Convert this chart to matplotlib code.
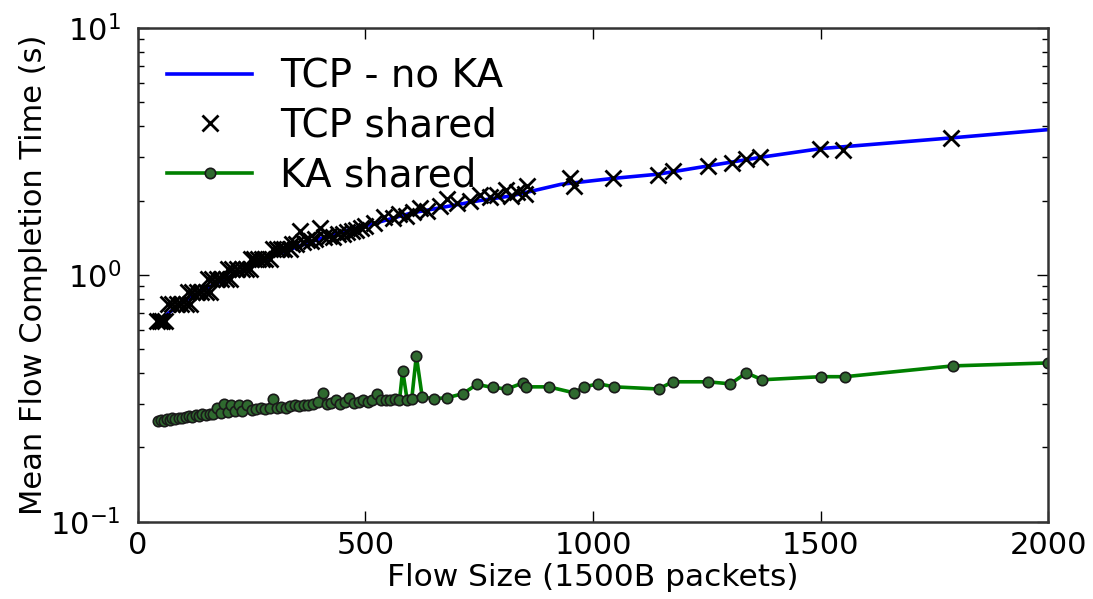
import numpy as np
import matplotlib.pyplot as plt

# TCP - no KA (smooth curve)
nka_x = [45, 100, 150, 200, 250, 300, 350, 400, 450, 500, 600, 750, 820, 930,
         1043, 1143, 1250, 1370, 1500, 1786, 2000]
nka_y = [0.65, 0.78, 0.88, 0.98, 1.08, 1.2, 1.3, 1.4, 1.5, 1.58, 1.78, 2.0, 2.09, 2.33,
         2.46, 2.56, 2.76, 3.0, 3.25, 3.59, 3.88]

# TCP shared (crosses)
tcp_x = [42, 48, 54, 60,
         66, 76, 86, 96, 106, 114,
         110, 120, 130, 140, 150, 158,
         154, 164, 174, 184, 194, 202,
         198, 208, 218, 228, 238, 246,
         248, 256, 264, 272, 280, 290,
         298, 306, 314, 322, 334,
         340, 348, 356, 364, 372, 380, 390, 400, 410, 420, 430, 440, 450, 460,
         470, 480, 490, 500, 520, 540, 560, 575, 590, 605, 620, 635, 664, 680,
         701, 730, 752, 774, 789, 810, 819, 833, 850, 855, 950, 958, 1043,
         1143, 1175, 1252, 1305, 1337, 1368, 1499, 1549, 1786]
tcp_y = [0.65, 0.65, 0.65, 0.65,
         0.76, 0.76, 0.76, 0.76, 0.76, 0.76,
         0.85, 0.85, 0.85, 0.85, 0.85, 0.85,
         0.96, 0.96, 0.96, 0.96, 0.96, 0.96,
         1.06, 1.06, 1.06, 1.06, 1.06, 1.06,
         1.16, 1.16, 1.16, 1.16, 1.16, 1.16,
         1.27, 1.27, 1.27, 1.27, 1.27,
         1.34, 1.33, 1.51, 1.36, 1.38, 1.37, 1.40, 1.55, 1.42, 1.44, 1.43, 1.46, 1.47, 1.49,
         1.5, 1.52, 1.55, 1.58, 1.62, 1.72, 1.7, 1.76, 1.74, 1.8, 1.86, 1.82, 1.9, 2.03,
         1.96, 2.0, 2.1, 2.06, 2.1, 2.2, 2.09, 2.16, 2.13, 2.29, 2.47, 2.3, 2.46,
         2.54, 2.64, 2.76, 2.85, 2.95, 3.0, 3.25, 3.21, 3.59]

# KA shared (line with circles)
ka_x = [45, 52, 58, 64, 70, 76, 82, 90, 98, 105, 112, 120, 128, 135, 142, 150, 158,
        166, 174, 182, 190, 198, 206, 214, 222, 230, 240, 250, 260, 270, 280, 290,
        297, 305, 315, 325, 335, 345, 355, 365, 375, 385, 395, 407, 415, 425, 435,
        445, 455, 465, 475, 485, 495, 505, 515, 525, 535, 545, 555, 565, 575, 582,
        592, 602, 612, 625, 650, 679, 714, 745, 780, 811, 846, 853, 903, 958, 981,
        1012, 1047, 1144, 1175, 1252, 1302, 1337, 1372, 1500, 1554, 1790, 2000]
ka_y = [0.255, 0.258, 0.256, 0.26, 0.258, 0.262, 0.26, 0.264, 0.262, 0.266, 0.268,
        0.265, 0.27, 0.268, 0.272, 0.27, 0.274, 0.272, 0.29, 0.276, 0.3, 0.278, 0.296,
        0.28, 0.298, 0.282, 0.296, 0.284, 0.286, 0.288, 0.286, 0.29, 0.315, 0.29, 0.292,
        0.29, 0.294, 0.296, 0.294, 0.298, 0.296, 0.3, 0.305, 0.333, 0.3, 0.302, 0.31,
        0.3, 0.305, 0.318, 0.302, 0.306, 0.31, 0.305, 0.31, 0.33, 0.31, 0.312, 0.31,
        0.315, 0.31, 0.41, 0.31, 0.315, 0.47, 0.32, 0.315, 0.318, 0.33, 0.36, 0.35,
        0.345, 0.365, 0.352, 0.352, 0.333, 0.352, 0.362, 0.352, 0.345, 0.369, 0.369,
        0.362, 0.401, 0.376, 0.387, 0.387, 0.428, 0.44]

fig = plt.figure(figsize=(10.93, 5.99), dpi=100)
ax = fig.add_axes([0.126, 0.129, 0.833, 0.824])

ax.plot(nka_x, nka_y, color='#0000ff', lw=2.6, label='TCP - no KA')
ax.plot(tcp_x, tcp_y, 'x', color='black', ms=11, mew=2.0, label='TCP shared')
ax.plot(ka_x, ka_y, '-o', color='#008000', lw=2.6, ms=7.5,
        mfc='#2f6a2f', mec='#1a1a1a', mew=1.2, label='KA shared')

ax.set_yscale('log')
ax.set_xlim(0, 2000)
ax.set_ylim(0.1, 10)
ax.set_xticks([0, 500, 1000, 1500, 2000])
ax.tick_params(which='both', direction='in', top=True, right=True, labelsize=22)
ax.tick_params(which='major', length=8, width=1)
ax.tick_params(which='minor', length=4, width=1)
ax.tick_params(axis='x', pad=7)
ax.tick_params(axis='y', pad=12)
for s in ax.spines.values():
    s.set_linewidth(1.8)
    s.set_color('#333333')

ax.set_xlabel('Flow Size (1500B packets)', fontsize=22.5, labelpad=2)
ax.set_ylabel('Mean Flow Completion Time (s)', fontsize=22, labelpad=2)

ax.legend(loc='upper left', frameon=False, fontsize=28, handlelength=2.2,
          handletextpad=0.7, labelspacing=0.3, borderaxespad=0.35)

fig.savefig('out.png', dpi=100)
